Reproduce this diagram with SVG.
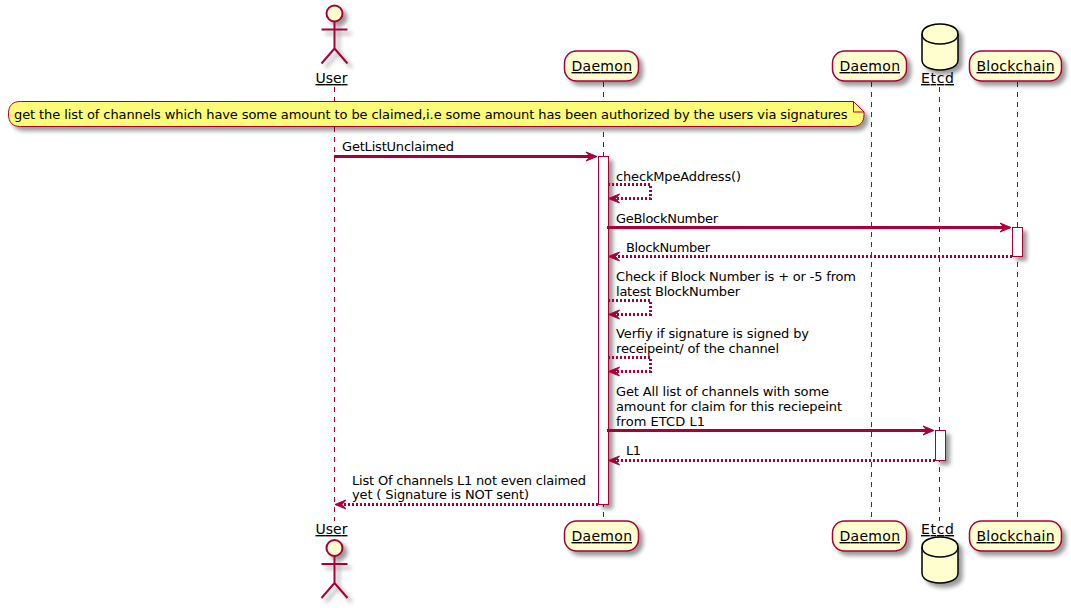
<svg xmlns="http://www.w3.org/2000/svg" width="1071" height="608" viewBox="0 0 1071 608">
<style>
text{font-family:"DejaVu Sans",sans-serif;font-size:13px;fill:#000}
.p{font-size:14px;text-decoration:underline}
.life{stroke:#A80036;stroke-width:1;stroke-dasharray:5 5;fill:none}
.box{fill:#FEFECE;stroke:#A80036;stroke-width:1.5}
.db{fill:#FEFECE;stroke:#000;stroke-width:1.5}
.dbl{fill:none;stroke:#000;stroke-width:1.5}
.act{fill:#fff;stroke:#A80036;stroke-width:1}
.a{stroke:#A80036;stroke-width:3;fill:none}
.r{stroke:#A80036;stroke-width:3;stroke-dasharray:2 2;fill:none}
.h{fill:#A80036;stroke:#A80036;stroke-width:1}
.actor{fill:none;stroke:#A80036;stroke-width:2}
</style>
<defs>
<filter id="s" filterUnits="userSpaceOnUse" x="0" y="0" width="1071" height="608"><feDropShadow dx="4" dy="4" stdDeviation="2" flood-color="#000" flood-opacity=".4"/></filter>
<g id="actor" class="actor"><circle cx="0" cy="0" r="8" fill="#FEFECE"/><path d="M0 8V35M-13 16H13M0 35L-13 50M0 35L13 50"/></g>
<g id="cyl"><path class="db" d="M922 34C922 24 940 24 940 24C940 24 958 24 958 34V60C958 70 940 70 940 70C940 70 922 70 922 60Z"/><path class="dbl" d="M922 34C922 44 940 44 940 44C940 44 958 44 958 34"/></g>
<path id="hr" class="h" d="M0 0L-11 -4.500L-7 0L-11 4.500Z"/>
<path id="hl" class="h" d="M0 0L11 -4.500L7 0L11 4.500Z"/>
</defs>
<g id="lifelines">
<path class="life" d="M334.500 87V521M603.500 82V521M871.500 82V521M939.500 87V521M1017.500 82V521"/>
</g>
<g id="activations">
<rect class="act" x="598.500" y="156.500" width="10" height="348" filter="url(#s)"/>
<rect class="act" x="1012.500" y="227.500" width="10" height="29" filter="url(#s)"/>
<rect class="act" x="935.500" y="430.500" width="10" height="30" filter="url(#s)"/>
</g>
<g id="user-top"><g filter="url(#s)"><use href="#actor" x="334.500" y="13.500"/></g><text class="p" x="315.500" y="83" textLength="32">User</text></g>
<g id="user-bottom"><text class="p" x="315.500" y="534" textLength="32">User</text><g filter="url(#s)"><use href="#actor" x="334.500" y="548"/></g></g>
<g id="daemon-top"><rect class="box" x="564.500" y="51" width="74" height="30" rx="12" filter="url(#s)"/><text class="p" x="571.500" y="71" textLength="60.500">Daemon</text></g>
<g id="daemon-bottom"><rect class="box" x="564.500" y="521" width="74" height="30" rx="12" filter="url(#s)"/><text class="p" x="571.500" y="541" textLength="60.500">Daemon</text></g>
<g id="daemon2-top"><rect class="box" x="832.500" y="51" width="74" height="30" rx="12" filter="url(#s)"/><text class="p" x="839.500" y="71" textLength="60.500">Daemon</text></g>
<g id="daemon2-bottom"><rect class="box" x="832.500" y="521" width="74" height="30" rx="12" filter="url(#s)"/><text class="p" x="839.500" y="541" textLength="60.500">Daemon</text></g>
<g id="etcd-top"><g filter="url(#s)"><use href="#cyl"/></g><text class="p" x="921" y="83" textLength="33">Etcd</text></g>
<g id="etcd-bottom"><g filter="url(#s)"><use href="#cyl" y="513"/></g><text class="p" x="921" y="534" textLength="33">Etcd</text></g>
<g id="blockchain-top"><rect class="box" x="969.500" y="51" width="92" height="30" rx="12" filter="url(#s)"/><text class="p" x="976.500" y="71" textLength="78">Blockchain</text></g>
<g id="blockchain-bottom"><rect class="box" x="969.500" y="521" width="92" height="30" rx="12" filter="url(#s)"/><text class="p" x="976.500" y="541" textLength="78">Blockchain</text></g>
<g id="note">
<path d="M20.500 101.500H853.500L864 112V114.500C864 122.500 860 126.500 852 126.500H20.500C12.500 126.500 8.500 122.500 8.500 114C8.500 105.500 12.500 101.500 20.500 101.500Z" fill="#FBFB77" stroke="#A80036" filter="url(#s)"/>
<path d="M853.500 101.500V112H864Z" fill="#FBFB77" stroke="#A80036"/>
<text x="14" y="118.500" textLength="833.500">get the list of channels which have some amount to be claimed,i.e some amount has been authorized by the users via signatures</text>
</g>
<g id="connectors">
<path class="a" d="M334 156.500H590"/><use href="#hr" x="597" y="156.500"/>
<path class="r" d="M608 184.500H650.500V198.500H612"/><use href="#hl" x="608.500" y="198.500"/>
<path class="a" d="M607 227.500H1004"/><use href="#hr" x="1011" y="227.500"/>
<path class="r" d="M1012 256.500H614"/><use href="#hl" x="608.500" y="256.500"/>
<path class="r" d="M608 300.500H650.500V314.500H612"/><use href="#hl" x="608.500" y="314.500"/>
<path class="r" d="M608 357.500H650.500V371.500H612"/><use href="#hl" x="608.500" y="371.500"/>
<path class="a" d="M607 430.500H927"/><use href="#hr" x="934" y="430.500"/>
<path class="r" d="M935 460.500H614"/><use href="#hl" x="608.500" y="460.500"/>
<path class="r" d="M598 504.500H341"/><use href="#hl" x="335" y="504.500"/>
</g>
<g id="labels">
<text x="342" y="151" textLength="112">GetListUnclaimed</text>
<text x="616" y="181" textLength="125">checkMpeAddress()</text>
<text x="616" y="222.500" textLength="102">GeBlockNumber</text>
<text x="626" y="252" textLength="84">BlockNumber</text>
<text x="616" y="281" textLength="240">Check if Block Number is + or -5 from</text>
<text x="616" y="296" textLength="124">latest BlockNumber</text>
<text x="616" y="338" textLength="193">Verfiy if signature is signed by</text>
<text x="616" y="353" textLength="163">receipeint/ of the channel</text>
<text x="616" y="396" textLength="213">Get All list of channels with some</text>
<text x="616" y="411" textLength="226">amount for claim for this reciepeint</text>
<text x="616" y="426" textLength="89">from ETCD L1</text>
<text x="626" y="455" textLength="15">L1</text>
<text x="352" y="485" textLength="234">List Of channels L1 not even claimed</text>
<text x="352" y="499" textLength="177">yet ( Signature is NOT sent)</text>
</g>
</svg>
